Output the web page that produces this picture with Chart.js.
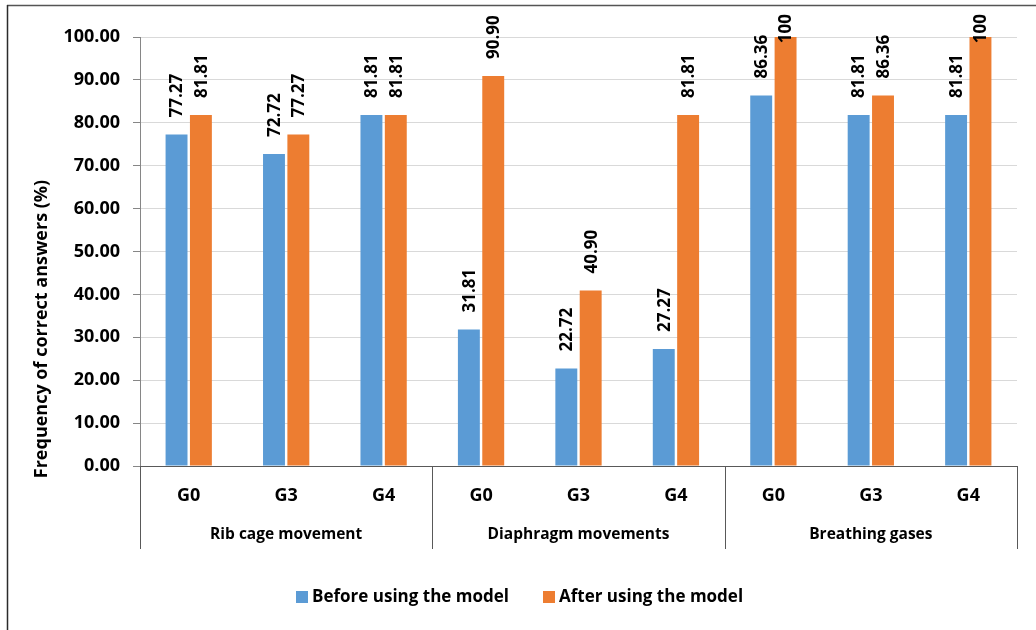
<!DOCTYPE html>
<html>
<head>
<meta charset="utf-8">
<script src="https://cdn.jsdelivr.net/npm/chart.js@4/dist/chart.umd.min.js"></script>
<style>
  html, body { margin: 0; padding: 0; background: #ffffff; }
  #wrap { width: 1036px; height: 630px; position: relative; }
</style>
</head>
<body>
<div id="wrap"><canvas id="c" width="1036" height="630"></canvas></div>
<script>
// Sub-categories (groups) and their parent topics
const groups = ['G0', 'G3', 'G4', 'G0', 'G3', 'G4', 'G0', 'G3', 'G4'];
const topics = ['Rib cage movement', 'Diaphragm movements', 'Breathing gases'];
const topicSpan = [3, 3, 3];

// Frequency of correct answers (%)
const beforeModel = [77.27, 72.72, 81.81, 31.81, 22.72, 27.27, 86.36, 81.81, 81.81];
const afterModel  = [81.81, 77.27, 81.81, 90.90, 40.90, 81.81, 100, 86.36, 100];

const seriesNames = ['Before using the model', 'After using the model'];
const yTicks = [0, 10, 20, 30, 40, 50, 60, 70, 80, 90, 100];

const FONT = '"Open Sans", "Noto Sans", sans-serif';
const BLUE = '#5B9BD5';
const ORANGE = '#ED7D31';

function fmtValue(v) {
  return Number.isInteger(v) ? String(v) : v.toFixed(2);
}

// Outer frame, topic row, separators, axis title, data labels and legend
const decorations = {
  id: 'decorations',
  afterDatasetsDraw(chart) {
    const ctx = chart.ctx;
    ctx.save();
    ctx.fillStyle = '#000';
    ctx.font = 'bold 17px ' + FONT;
    ctx.textBaseline = 'middle';
    ctx.textAlign = 'left';
    const top = 14;
    chart.data.datasets.forEach((ds, di) => {
      const meta = chart.getDatasetMeta(di);
      meta.data.forEach((bar, i) => {
        const txt = fmtValue(ds.data[i]);
        const w = ctx.measureText(txt).width;
        let anchor = bar.y - 17;
        if (anchor - w < top) anchor = top + w;
        ctx.save();
        ctx.translate(bar.x + 1, anchor);
        ctx.rotate(-Math.PI / 2);
        ctx.fillText(txt, 0, 0);
        ctx.restore();
      });
    });
    ctx.restore();
  },
  afterDraw(chart) {
    const ctx = chart.ctx;
    const xs = chart.scales.x;
    const area = chart.chartArea;
    ctx.save();

    // frame
    ctx.strokeStyle = '#555555';
    ctx.lineWidth = 1.5;
    ctx.beginPath();
    ctx.moveTo(7, 5.5); ctx.lineTo(1036, 5.5);
    ctx.stroke();
    ctx.strokeStyle = '#2b2b2b';
    ctx.beginPath();
    ctx.moveTo(7.5, 5); ctx.lineTo(7.5, 630);
    ctx.stroke();

    // topic separators and labels
    const n = groups.length;
    const cw = (xs.right - xs.left) / n;
    const sepBottom = 549;
    ctx.strokeStyle = '#595959';
    ctx.lineWidth = 1;
    let start = 0;
    const bounds = [0];
    topicSpan.forEach(s => { start += s; bounds.push(start); });
    bounds.forEach(b => {
      const x = Math.round(xs.left + b * cw) + 0.5;
      ctx.beginPath();
      ctx.moveTo(x, area.bottom);
      ctx.lineTo(x, sepBottom);
      ctx.stroke();
    });
    ctx.fillStyle = '#000';
    ctx.font = 'bold 15.5px ' + FONT;
    ctx.textAlign = 'center';
    ctx.textBaseline = 'middle';
    topics.forEach((t, i) => {
      const cx = xs.left + (bounds[i] + bounds[i + 1]) / 2 * cw;
      ctx.fillText(t, cx, 535);
    });

    // y axis title
    ctx.save();
    ctx.translate(42, 329);
    ctx.rotate(-Math.PI / 2);
    ctx.font = 'bold 18px ' + FONT;
    ctx.fillText('Frequency of correct answers (%)', 0, 0);
    ctx.restore();

    // legend
    const colors = [BLUE, ORANGE];
    const legendX = [296, 543];
    ctx.font = 'bold 17px ' + FONT;
    ctx.textAlign = 'left';
    seriesNames.forEach((name, i) => {
      ctx.fillStyle = colors[i];
      ctx.fillRect(legendX[i], 591, 12, 12);
      ctx.fillStyle = '#000';
      ctx.fillText(name, legendX[i] + 16, 597);
    });

    ctx.restore();
  }
};

new Chart(document.getElementById('c'), {
  type: 'bar',
  data: {
    labels: groups,
    datasets: [
      { label: seriesNames[0], data: beforeModel, backgroundColor: BLUE, borderWidth: 0 },
      { label: seriesNames[1], data: afterModel, backgroundColor: ORANGE, borderWidth: 0 }
    ]
  },
  options: {
    responsive: false,
    animation: false,
    devicePixelRatio: 1,
    layout: { padding: { top: 37, left: 0, right: 19, bottom: 0 } },
    datasets: { bar: { categoryPercentage: 0.5, barPercentage: 0.9 } },
    plugins: { legend: { display: false }, tooltip: { enabled: false } },
    scales: {
      x: {
        grid: { display: false, drawTicks: false },
        border: { display: true, color: '#595959', width: 1 },
        ticks: { color: '#000', font: { family: FONT, size: 18, weight: 'bold' }, padding: 19 },
        afterFit(scale) { scale.height = 164; }
      },
      y: {
        min: 0, max: 100,
        afterBuildTicks(scale) { scale.ticks = yTicks.map(v => ({ value: v })); },
        grid: { color: '#d9d9d9', lineWidth: 1, tickColor: '#868686', tickLength: 7 },
        border: { display: true, color: '#868686', width: 1 },
        ticks: {
          color: '#000',
          font: { family: FONT, size: 18, weight: 'bold' },
          padding: 13,
          callback: v => Number(v).toFixed(2)
        },
        afterFit(scale) { scale.width = 140; }
      }
    }
  },
  plugins: [decorations]
});
</script>
</body>
</html>
